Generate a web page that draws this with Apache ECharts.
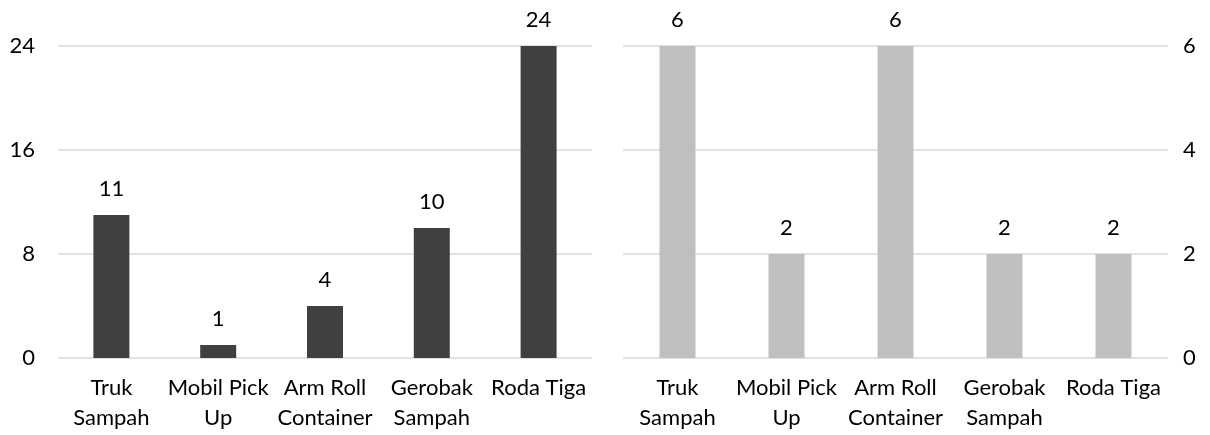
<!DOCTYPE html>
<html>
<head>
<meta charset="utf-8">
<script src="https://cdn.jsdelivr.net/npm/echarts@6/dist/echarts.min.js"></script>
<style>
  html, body { margin: 0; padding: 0; background: #fff; }
  #chart { width: 1210px; height: 435px; }
</style>
</head>
<body>
<div id="chart"></div>
<script>
// kategori kendaraan (label sumbu x dibungkus 2 baris)
var categories = ['Truk\nSampah', 'Mobil Pick\nUp', 'Arm Roll\nContainer', 'Gerobak\nSampah', 'Roda Tiga'];
var jumlahKiri = [11, 1, 4, 10, 24];
var jumlahKanan = [6, 2, 6, 2, 2];
var ticksKiri = [0, 8, 16, 24];
var ticksKanan = [0, 2, 4, 6];

var font = 'Lato, "Liberation Sans", sans-serif';
var textColor = '#000';

var chart = echarts.init(document.getElementById('chart'));

function xAxisFor(idx) {
    return {
        type: 'category',
        gridIndex: idx,
        data: categories,
        axisLine: { show: false },
        axisTick: { show: false },
        axisLabel: {
            color: textColor,
            fontFamily: font,
            fontSize: 22,
            lineHeight: 30,
            margin: 15,
            interval: 0
        }
    };
}

function yAxisFor(idx, ticks, pos, margin) {
    return {
        type: 'value',
        gridIndex: idx,
        position: pos,
        min: ticks[0],
        max: ticks[ticks.length - 1],
        interval: ticks[1] - ticks[0],
        axisLine: { show: false },
        axisTick: { show: false },
        splitLine: { lineStyle: { color: '#d9d9d9', width: 1.5 } },
        axisLabel: {
            color: textColor,
            fontFamily: font,
            fontSize: 22,
            margin: margin
        }
    };
}

var labelStyle = {
    show: true,
    position: 'top',
    distance: 15,
    color: textColor,
    fontFamily: font,
    fontSize: 22
};

var option = {
    animation: false,
    grid: [
        { left: 58, width: 534, top: 46, height: 312 },
        { left: 623, width: 545, top: 46, height: 312 }
    ],
    xAxis: [xAxisFor(0), xAxisFor(1)],
    yAxis: [
        yAxisFor(0, ticksKiri, 'left', 23),
        yAxisFor(1, ticksKanan, 'right', 15)
    ],
    series: [
        {
            type: 'bar',
            xAxisIndex: 0,
            yAxisIndex: 0,
            data: jumlahKiri,
            barWidth: 36,
            itemStyle: { color: '#404040' },
            label: labelStyle
        },
        {
            type: 'bar',
            xAxisIndex: 1,
            yAxisIndex: 1,
            data: jumlahKanan,
            barWidth: 36,
            itemStyle: { color: '#bfbfbf' },
            label: labelStyle
        }
    ]
};

chart.setOption(option);
</script>
</body>
</html>
